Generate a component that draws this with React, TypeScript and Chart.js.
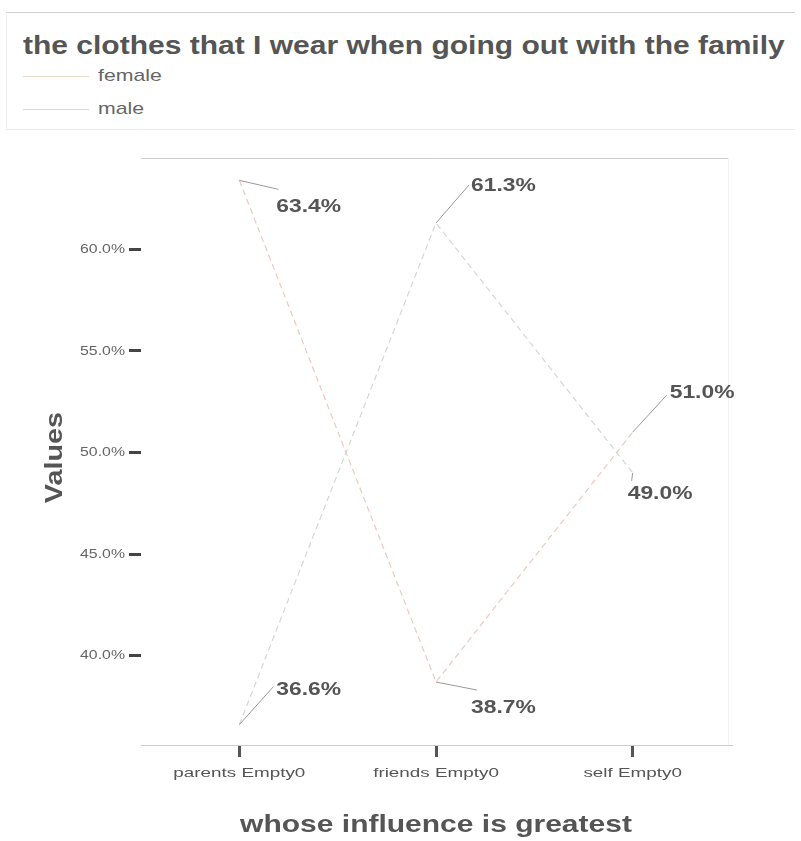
import React, { useEffect, useRef } from "react";
import { Chart, registerables } from "chart.js";

Chart.register(...registerables);

const categories = ["parents Empty0", "friends Empty0", "self Empty0"];
const femaleValues = [63.4, 38.7, 51.0];
const maleValues = [36.6, 61.3, 49.0];
const yTickValues = [40, 45, 50, 55, 60];
const seriesNames = ["female", "male"];
const titleText = "the clothes that I wear when going out with the family";
const xTitle = "whose influence is greatest";
const yTitle = "Values";

const FONT = "'Liberation Sans', Arial, sans-serif";
const femaleColor = "#ecc9c2";
const maleColor = "#d3d8d3";

// label offsets (style), per dataset, per point: [leaderDx, leaderDy, textDx, textDy]
const labelOffsets = [
  [[39, 9, 37, 27], [41, 8, 35, 26], [34, -37, 37, -39]],
  [[34, -38, 37, -35], [33, -38, 35, -37], [-1, 8, -5, 21]],
];

function stretchedText(ctx: any, text: string, x: number, y: number, font: string, color: string, align: string, sx: number, rot = 0) {
  ctx.save();
  ctx.translate(x, y);
  if (rot) ctx.rotate(rot);
  ctx.scale(sx, 1);
  ctx.font = font;
  ctx.fillStyle = color;
  ctx.textAlign = align;
  ctx.textBaseline = "middle";
  ctx.fillText(text, 0, 0);
  ctx.restore();
}

const labelPlugin = {
  id: "leaderLabels",
  afterDraw(chart: any) {
    const ctx = chart.ctx;
    const area = chart.chartArea;
    const xs = chart.scales.x;
    const ys = chart.scales.y;
    ctx.save();
    // top border line
    ctx.strokeStyle = "#cfcfcf";
    ctx.lineWidth = 1;
    ctx.beginPath();
    ctx.moveTo(area.left, area.top + 0.5);
    ctx.lineTo(area.right - 3, area.top + 0.5);
    ctx.stroke();
    ctx.strokeStyle = "#f3f3f3";
    ctx.beginPath();
    ctx.moveTo(area.right - 2.5, area.top);
    ctx.lineTo(area.right - 2.5, area.bottom);
    ctx.stroke();

    // y tick labels
    yTickValues.forEach((v) => {
      stretchedText(ctx, v.toFixed(1) + "%", 125, ys.getPixelForValue(v), `13px ${FONT}`, "#666", "right", 1.22);
    });
    // x tick labels
    categories.forEach((c, i) => {
      stretchedText(ctx, c, xs.getPixelForTick(i), area.bottom + 28, `13px ${FONT}`, "#555", "center", 1.45);
    });
    // axis titles
    stretchedText(ctx, xTitle, (area.left + area.right) / 2, area.bottom + 80, `bold 24px ${FONT}`, "#555", "center", 1.25);
    stretchedText(ctx, yTitle, 55, (area.top + area.bottom) / 2 + 6, `bold 24px ${FONT}`, "#555", "center", 1.2, -Math.PI / 2);

    chart.data.datasets.forEach((ds: any, di: number) => {
      const meta = chart.getDatasetMeta(di);
      meta.data.forEach((pt: any, i: number) => {
        const off = labelOffsets[di][i];
        ctx.strokeStyle = "#9a9a9a";
        ctx.lineWidth = 1;
        ctx.beginPath();
        ctx.moveTo(pt.x, pt.y);
        ctx.lineTo(pt.x + off[0], pt.y + off[1]);
        ctx.stroke();
        stretchedText(ctx, ds.data[i].toFixed(1) + "%", pt.x + off[2], pt.y + off[3], `bold 18px ${FONT}`, "#555", "left", 1.27);
      });
    });
    ctx.restore();
  },
};

export default function App() {
  const ref = useRef<HTMLCanvasElement>(null);
  useEffect(() => {
    if (!ref.current) return;
    const chart = new Chart(ref.current, {
      type: "line",
      data: {
        labels: categories,
        datasets: [
          {
            label: seriesNames[0],
            data: femaleValues,
            borderColor: femaleColor,
            borderWidth: 1.2,
            borderDash: [6, 4],
            pointRadius: 0,
            fill: false,
            tension: 0,
          },
          {
            label: seriesNames[1],
            data: maleValues,
            borderColor: maleColor,
            borderWidth: 1.2,
            borderDash: [6, 4],
            pointRadius: 0,
            fill: false,
            tension: 0,
          },
        ],
      },
      options: {
        animation: false,
        responsive: false,
        maintainAspectRatio: false,
        layout: { padding: { top: 18, right: 70, left: 0, bottom: 0 } },
        plugins: {
          legend: { display: false },
          title: { display: false },
          tooltip: { enabled: false },
        },
        scales: {
          x: {
            offset: true,
            grid: {
              display: true,
              drawOnChartArea: false,
              drawTicks: true,
              tickLength: 12,
              tickColor: "#555",
              lineWidth: 3,
              offset: false,
            },
            border: { display: true, color: "#cccccc", width: 1 },
            ticks: {
              color: "rgba(0,0,0,0)",
              font: { family: FONT, size: 12 },
              padding: 8,
              maxRotation: 0,
            },
            title: { display: false, text: xTitle },
            afterFit: (s: any) => {
              s.height = 95;
            },
          },
          y: {
            min: 35.6,
            max: 64.5,
            grid: {
              display: true,
              drawOnChartArea: false,
              drawTicks: true,
              tickLength: 12,
              tickColor: "#444",
              lineWidth: 3,
            },
            border: { display: false },
            ticks: {
              color: "rgba(0,0,0,0)",
              font: { family: FONT, size: 13 },
              padding: 3,
              callback: (v: any) => Number(v).toFixed(1) + "%",
            },
            afterBuildTicks: (s: any) => {
              s.ticks = yTickValues.map((v) => ({ value: v }));
            },
            title: { display: false, text: yTitle },
            afterFit: (s: any) => {
              s.width = 141;
            },
          },
        },
      },
      plugins: [labelPlugin],
    });
    return () => chart.destroy();
  }, []);

  return (
    <div style={{ position: "absolute", left: 0, top: 0, width: 801, height: 841, background: "#fff", fontFamily: FONT }}>
      <div
        style={{
          position: "absolute",
          left: 6,
          top: 12,
          width: 789,
          height: 118,
          borderTop: "1px solid #d0d0d0",
          borderBottom: "1px solid #ececec",
          borderLeft: "1px solid #f2f2f2",
          boxSizing: "border-box",
        }}
      >
        <div
          style={{
            position: "absolute",
            left: 16,
            top: 17,
            fontSize: 25,
            fontWeight: "bold",
            color: "#555",
            whiteSpace: "nowrap",
            lineHeight: "30px",
            transform: "scaleX(1.2)",
            transformOrigin: "left center",
          }}
        >
          {titleText}
        </div>
        {seriesNames.map((name, i) => (
          <div key={name} style={{ position: "absolute", left: 16, top: 52 + i * 33, height: 22, display: "flex", alignItems: "center" }}>
            <div style={{ width: 66, height: 0, borderTop: `1px solid ${i === 0 ? "#e8dccb" : "#d8d8e2"}` }} />
            <span
              style={{
                marginLeft: 9,
                fontSize: 17,
                color: "#666",
                display: "inline-block",
                transform: "scaleX(1.25)",
                transformOrigin: "left center",
              }}
            >
              {name}
            </span>
          </div>
        ))}
      </div>
      <canvas ref={ref} width={801} height={700} style={{ position: "absolute", left: 0, top: 140, width: 801, height: 700 }} />
    </div>
  );
}
